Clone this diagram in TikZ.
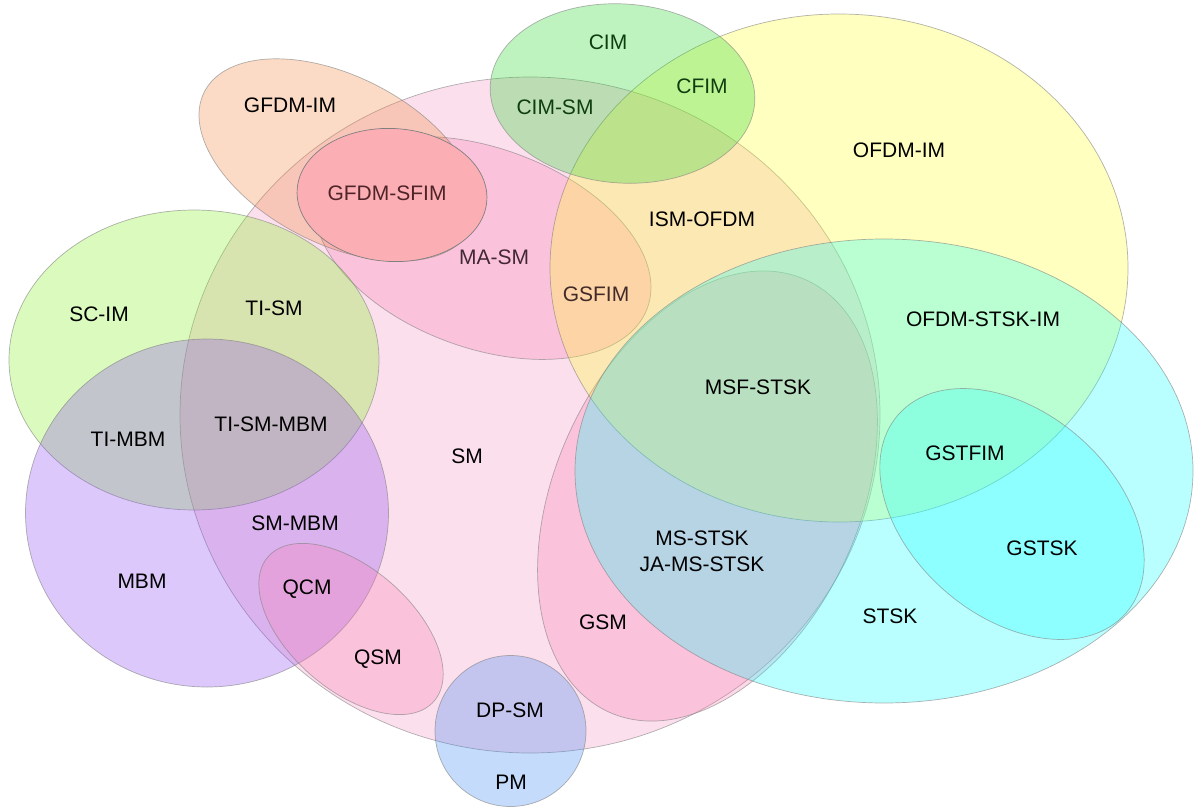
\documentclass[tikz,border=0pt]{standalone}
\usepackage{fontspec}
\setmainfont{Liberation Sans}
\definecolor{smc}{RGB}{248,152,198}
\definecolor{pinkc}{RGB}{250,127,178}
\definecolor{ofdmc}{RGB}{255,255,45}
\definecolor{stskc}{RGB}{28,255,255}
\definecolor{cimc}{RGB}{42,218,48}
\definecolor{gfdmc}{RGB}{242,138,65}
\definecolor{sfimc}{RGB}{251,174,180}
\definecolor{scimc}{RGB}{135,242,38}
\definecolor{mbmc}{RGB}{142,75,242}
\definecolor{pmc}{RGB}{65,138,242}
\definecolor{gstskc}{RGB}{40,255,255}
\definecolor{tgreen}{RGB}{14,62,16}
\definecolor{tred}{RGB}{78,36,40}
\definecolor{tpink}{RGB}{66,40,54}
\definecolor{tbrown}{RGB}{66,42,42}
\begin{document}
\begin{tikzpicture}[x=1pt,y=-1pt,
  venn/.style={draw=black!50, draw opacity=0.6, line width=0.7pt, fill opacity=0.3},
  lab/.style={font=\fontsize{21}{26}\selectfont, text=black, inner sep=0pt, align=center}]
\fill[white] (0,0) rectangle (1194,808);
\useasboundingbox (0,0) rectangle (1194,808);
% sets, bottom to top
\path[venn, fill=smc] (530,415) ellipse [x radius=350pt, y radius=338pt];
\path[venn, fill=pinkc, rotate around={-20:(483,248)}] (483,248) ellipse [x radius=175pt, y radius=100pt];
\path[venn, fill=pinkc, rotate around={-24.6:(707.5,496)}] (707.5,496) ellipse [x radius=152pt, y radius=237.5pt];
\path[venn, fill=gfdmc, rotate around={-27:(338,160)}] (338,160) ellipse [x radius=150pt, y radius=84pt];
\path[draw=black!50, line width=0.7pt, fill=sfimc, rotate around={-3:(392,195)}] (392,195) ellipse [x radius=95pt, y radius=66.5pt];
\path[venn, fill=scimc] (194,360) ellipse [x radius=185pt, y radius=150pt];
\path[venn, fill=mbmc] (207,513) ellipse [x radius=181.5pt, y radius=174pt];
\path[venn, fill=pinkc, rotate around={-41:(351,629)}] (351,629) ellipse [x radius=110pt, y radius=61pt];
\path[venn, fill=pmc] (510.5,731) circle [radius=75.5pt];
\path[venn, fill=ofdmc] (839,268) ellipse [x radius=289pt, y radius=254pt];
\path[venn, fill=stskc] (884,471) ellipse [x radius=309pt, y radius=232pt];
\path[venn, fill=gstskc, rotate around={-41:(1012,514)}] (1012,514) ellipse [x radius=151pt, y radius=102pt];
\path[venn, fill=cimc, rotate around={-4:(622.5,93.5)}] (622.5,93.5) ellipse [x radius=132.5pt, y radius=89.5pt];
% labels
\node[lab, text=tgreen] (cim) at (608,42) {CIM};
\node[lab, text=tgreen] (cfim) at (702,86) {CFIM};
\node[lab, text=tgreen] (cimsm) at (555,107) {CIM-SM};
\node[lab] (gfdmim) at (290,105) {GFDM-IM};
\node[lab, text=tred] (gfdmsfim) at (387,193) {GFDM-SFIM};
\node[lab] (ofdmim) at (899,150) {OFDM-IM};
\node[lab] (ismofdm) at (702,219) {ISM-OFDM};
\node[lab, text=tpink] (masm) at (494,257) {MA-SM};
\node[lab, text=tbrown] (gsfim) at (596,294) {GSFIM};
\node[lab] (scim) at (99,314) {SC-IM};
\node[lab] (tism) at (274,308) {TI-SM};
\node[lab] (ofdmstskim) at (983,319) {OFDM-STSK-IM};
\node[lab] (msfstsk) at (758,387) {MSF-STSK};
\node[lab] (timbm) at (128,439) {TI-MBM};
\node[lab] (tismmbm) at (271,424) {TI-SM-MBM};
\node[lab] (sm) at (467,456) {SM};
\node[lab] (gstfim) at (965,453) {GSTFIM};
\node[lab] (smmbm) at (295,523) {SM-MBM};
\node[lab] (gstsk) at (1042,548) {GSTSK};
\node[lab] (msstsk) at (702,551) {MS-STSK\\JA-MS-STSK};
\node[lab] (mbm) at (142,581) {MBM};
\node[lab] (qcm) at (307,589) {QCM};
\node[lab] (stsk) at (890,616) {STSK};
\node[lab] (gsm) at (603,622) {GSM};
\node[lab] (qsm) at (378,659) {QSM};
\node[lab] (dpsm) at (510,710) {DP-SM};
\node[lab] (pm) at (511,782) {PM};
\end{tikzpicture}
\end{document}
